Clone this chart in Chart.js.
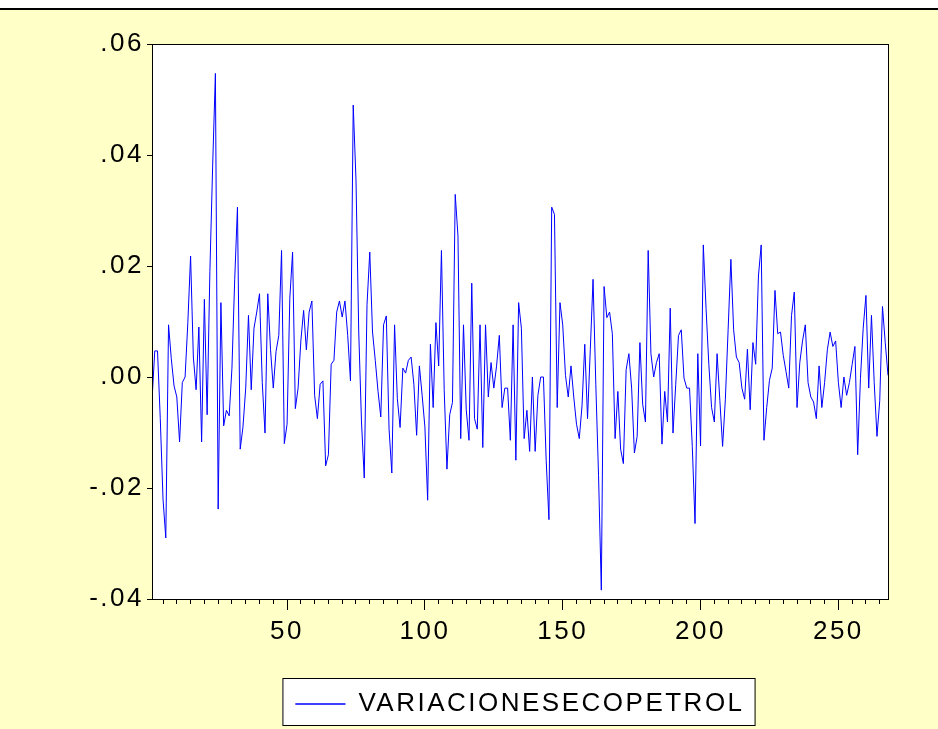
<!DOCTYPE html>
<html><head><meta charset="utf-8">
<script src="https://cdn.jsdelivr.net/npm/chart.js@4.4.1/dist/chart.umd.min.js"></script>
<style>html,body{margin:0;padding:0;background:#fff;}canvas{display:block;}</style>
</head><body>
<canvas id="c" width="938" height="729"></canvas>
<script>
const seriesName = 'VARIACIONESECOPETROL';
const variaciones = [
-0.0042,0.0047,0.0047,-0.0075,-0.0220,-0.0290,0.0094,0.0033,-0.0016,-0.0036,
-0.0117,-0.0010,0.0000,0.0098,0.0218,0.0036,-0.0023,0.0090,-0.0117,0.0140,
-0.0068,0.0190,0.0380,0.0547,-0.0238,0.0134,-0.0088,-0.0060,-0.0070,0.0016,
0.0175,0.0306,-0.0130,-0.0090,-0.0020,0.0111,-0.0023,0.0088,0.0117,0.0150,
-0.0010,-0.0101,0.0150,0.0049,-0.0020,0.0046,0.0075,0.0228,-0.0120,-0.0085,
0.0142,0.0225,-0.0057,-0.0020,0.0065,0.0120,0.0049,0.0117,0.0137,-0.0033,
-0.0075,-0.0013,-0.0007,-0.0160,-0.0140,0.0023,0.0030,0.0117,0.0137,0.0108,
0.0137,0.0075,-0.0007,0.0490,0.0355,0.0081,-0.0081,-0.0182,0.0130,0.0225,
0.0081,0.0030,-0.0026,-0.0072,0.0094,0.0110,-0.0094,-0.0173,0.0094,-0.0039,
-0.0091,0.0016,0.0007,0.0030,0.0036,-0.0013,-0.0105,0.0020,-0.0033,-0.0090,
-0.0222,0.0059,-0.0055,0.0098,0.0020,0.0228,-0.0023,-0.0166,-0.0068,-0.0046,
0.0329,0.0254,-0.0111,0.0094,-0.0059,-0.0114,0.0169,-0.0075,-0.0094,0.0094,
-0.0127,0.0094,-0.0036,0.0026,-0.0020,0.0020,0.0075,-0.0055,-0.0020,-0.0020,
-0.0114,0.0094,-0.0150,0.0134,0.0088,-0.0111,-0.0060,-0.0134,0.0000,-0.0134,
-0.0033,0.0000,0.0000,-0.0150,-0.0257,0.0306,0.0293,-0.0055,0.0134,0.0094,
0.0003,-0.0036,0.0020,-0.0036,-0.0085,-0.0111,-0.0052,0.0059,-0.0075,0.0049,
0.0176,-0.0013,-0.0178,-0.0384,0.0163,0.0107,0.0117,0.0078,-0.0111,-0.0026,
-0.0130,-0.0156,0.0013,0.0042,-0.0020,-0.0137,-0.0107,0.0062,-0.0049,-0.0081,
0.0228,0.0042,0.0000,0.0026,0.0042,-0.0121,-0.0026,-0.0081,0.0124,-0.0101,
-0.0013,0.0075,0.0085,-0.0002,-0.0020,-0.0020,-0.0125,-0.0264,0.0042,-0.0124,
0.0238,0.0123,0.0023,-0.0055,-0.0081,0.0042,-0.0042,-0.0125,-0.0040,0.0085,
0.0212,0.0085,0.0036,0.0026,-0.0020,-0.0040,0.0050,-0.0059,0.0062,0.0023,
0.0182,0.0238,-0.0114,-0.0055,-0.0006,0.0016,0.0156,0.0078,0.0081,0.0039,
0.0010,-0.0020,0.0111,0.0153,-0.0055,0.0026,0.0065,0.0094,-0.0010,-0.0036,
-0.0045,-0.0075,0.0020,-0.0055,-0.0010,0.0049,0.0081,0.0055,0.0065,-0.0010,
-0.0055,0.0000,-0.0033,-0.0010,0.0023,0.0055,-0.0140,-0.0003,0.0088,0.0147,
-0.0020,0.0111,-0.0010,-0.0107,-0.0043,0.0127,0.0062,0.0003
];
const observations = variaciones.map((v, i) => i + 1);
const xTickLabels = [50, 100, 150, 200, 250];
const yTickValues = [-0.04, -0.02, 0.00, 0.02, 0.04, 0.06];

const points = observations.map((o, i) => ({ x: o, y: variaciones[i] }));
const tickFont = { family: '"Liberation Sans", Arial, sans-serif', size: 26 };
const fmt = v => { if (Math.abs(v) < 1e-9) return '.00'; return v.toFixed(2).replace('0.', '.'); };

const spacingPlugin = {
  id: 'spacing',
  beforeUpdate(chart) { chart.ctx.letterSpacing = '2.5px'; },
  beforeDraw(chart) { chart.ctx.letterSpacing = '2.5px'; }
};

const framePlugin = {
  id: 'frame',
  beforeDraw(chart) {
    const c = chart.ctx, a = chart.chartArea;
    c.save();
    c.fillStyle = '#ffffff'; c.fillRect(0, 0, chart.width, chart.height);
    c.fillStyle = '#FFFFC8'; c.fillRect(0, 10, chart.width, chart.height - 10);
    c.fillStyle = '#000000'; c.fillRect(0, 8, chart.width, 2);
    c.fillStyle = '#ffffff'; c.fillRect(a.left, a.top, a.right - a.left, a.bottom - a.top);
    const hb = chart.legend && chart.legend.legendHitBoxes && chart.legend.legendHitBoxes[0];
    if (hb) {
      const l = hb.left - 13, r = hb.left + hb.width + 10, t = hb.top - 13, b = hb.top + 34;
      c.fillStyle = '#ffffff'; c.fillRect(l, t, r - l, b - t);
      c.strokeStyle = '#000000'; c.lineWidth = 1; c.strokeRect(l + 0.5, t + 0.5, r - l, b - t);
    }
    c.restore();
  },
  afterDraw(chart) {
    const c = chart.ctx, a = chart.chartArea;
    c.save();
    c.strokeStyle = '#000000'; c.lineWidth = 1;
    c.strokeRect(a.left + 0.5, a.top + 0.5, a.right - a.left, a.bottom - a.top);
    c.restore();
  }
};

new Chart(document.getElementById('c'), {
  type: 'line',
  data: { datasets: [{ label: seriesName, data: points, borderColor: '#0000FF', backgroundColor: '#0000FF',
    borderWidth: 1, pointRadius: 0, tension: 0, fill: false }] },
  options: {
    responsive: false, animation: false,
    layout: { padding: { left: 0, right: 50, top: 44, bottom: 2 } },
    plugins: {
      tooltip: { enabled: false },
      legend: { position: 'bottom', align: 'center', fullSize: false,
        labels: { boxWidth: 50, boxHeight: 0, padding: 34, color: '#000', font: { family: '"Liberation Sans", Arial, sans-serif', size: 26 } } }
    },
    scales: {
      x: { type: 'linear', position: 'bottom', min: 1, max: 268,
        afterFit: s => { s.height = 0; },
        ticks: { display: false, stepSize: 5, includeBounds: false },
        grid: { drawOnChartArea: false, tickLength: 5, tickColor: '#000' }, border: { display: false } },
      xMajor: { type: 'linear', position: 'bottom', min: 1, max: 268,
        afterFit: s => { s.height = 58; },
        afterBuildTicks: s => { s.ticks = xTickLabels.map(v => ({ value: v })); },
        ticks: { font: tickFont, color: '#000', padding: 6, maxRotation: 0, autoSkip: false },
        grid: { drawOnChartArea: false, tickLength: 11, tickColor: '#000' }, border: { display: false } },
      y: { type: 'linear', min: -0.04, max: 0.06,
        afterFit: s => { s.width = 152; },
        afterBuildTicks: s => { s.ticks = yTickValues.map(v => ({ value: v })); },
        ticks: { callback: fmt, font: tickFont, color: '#000', padding: 3 },
        grid: { drawOnChartArea: false, tickLength: 5, tickColor: '#000' }, border: { display: false } }
    }
  },
  plugins: [spacingPlugin, framePlugin]
});
</script>
</body></html>
